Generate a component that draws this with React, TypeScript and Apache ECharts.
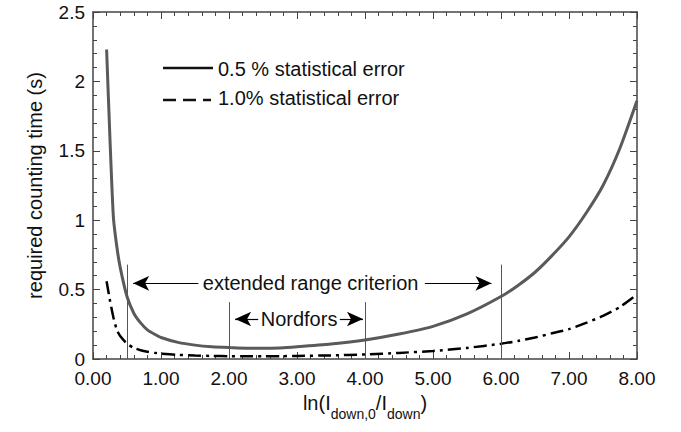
import React, { useEffect, useRef } from 'react';
import * as echarts from 'echarts';

// ---- data ----
const xValues = [0.2, 0.25, 0.3, 0.35, 0.4, 0.5, 0.6, 0.7, 0.8, 0.9, 1.0, 1.25, 1.5, 1.75, 2.0, 2.25, 2.5, 2.75, 3.0, 3.5, 4.0, 4.5, 5.0, 5.5, 6.0, 6.25, 6.5, 6.75, 7.0, 7.25, 7.5, 7.75, 8.0];
const solidValues = [2.23, 1.58, 1.02, 0.81, 0.66, 0.45, 0.33, 0.26, 0.21, 0.18, 0.155, 0.12, 0.1, 0.088, 0.082, 0.078, 0.077, 0.08, 0.088, 0.108, 0.137, 0.18, 0.235, 0.325, 0.45, 0.53, 0.625, 0.745, 0.88, 1.05, 1.25, 1.52, 1.86];
const dashedValues = [0.56, 0.42, 0.3, 0.21, 0.165, 0.11, 0.08, 0.063, 0.052, 0.045, 0.039, 0.03, 0.025, 0.022, 0.02, 0.019, 0.019, 0.02, 0.022, 0.026, 0.033, 0.044, 0.058, 0.08, 0.11, 0.13, 0.155, 0.185, 0.215, 0.26, 0.31, 0.375, 0.465];
const xTickLabels = ['0.00', '1.00', '2.00', '3.00', '4.00', '5.00', '6.00', '7.00', '8.00'];
const yTickLabels = ['0', '0.5', '1', '1.5', '2', '2.5'];
const seriesNames = ['0.5 % statistical error', '1.0% statistical error'];
const markerX = [0.5, 2.0, 4.0, 6.0];
const markerTop = [0.68, 0.41, 0.41, 0.68];
const annotationNames = ['extended range criterion', 'Nordfors'];
const annotationX = [3.2, 3.03];
const annotationY = [0.545, 0.288];
// arrows: from x -> to x at y
const arrowFrom = [1.55, 4.88, 2.43, 3.63];
const arrowTo = [0.59, 5.86, 2.09, 3.97];
const arrowY = [0.545, 0.545, 0.288, 0.288];

const FONT = '"Liberation Sans", Arial, Helvetica, sans-serif';
const AXIS_COLOR = '#444';

function makeAxisBase(isX: boolean, showLabels: boolean, position: string) {
  return {
    type: 'value',
    gridIndex: 0,
    position,
    min: 0,
    max: isX ? 8 : 2.5,
    interval: isX ? 1 : 0.5,
    axisLine: { show: true, onZero: false, lineStyle: { color: AXIS_COLOR, width: 1.5 } },
    axisTick: { show: true, inside: true, length: 7, lineStyle: { color: AXIS_COLOR, width: 1 } },
    minorTick: { show: true, splitNumber: 5, length: 4, lineStyle: { color: AXIS_COLOR, width: 1 } },
    splitLine: { show: false },
    minorSplitLine: { show: false },
    axisLabel: showLabels
      ? {
          show: true,
          fontSize: 19,
          fontFamily: FONT,
          color: '#111',
          margin: isX ? 10 : 8,
          formatter: (v: number) =>
            isX ? xTickLabels[Math.round(v)] ?? '' : yTickLabels[Math.round(v / 0.5)] ?? '',
        }
      : { show: false },
  };
}

export default function App() {
  const ref = useRef<HTMLDivElement>(null);
  useEffect(() => {
    document.body.style.margin = '0';
    const chart = echarts.init(ref.current!, null, { renderer: 'svg' });
    const arrowStyle = { color: '#000', width: 1.2, type: 'solid' };
    const markerStyle = { color: '#555', width: 1, type: 'solid' };
    const arrowLines = arrowFrom.map((fx, i) => [
      { coord: [fx, arrowY[i]], symbol: 'none', lineStyle: arrowStyle },
      { coord: [arrowTo[i], arrowY[i]], symbol: 'arrow', symbolSize: [11, 16], lineStyle: arrowStyle },
    ]);
    const markerLines = markerX.map((x, i) => [
      { coord: [x, 0], symbol: 'none', lineStyle: markerStyle },
      { coord: [x, markerTop[i]], symbol: 'none', lineStyle: markerStyle },
    ]);
    const option: any = {
      animation: false,
      backgroundColor: '#fff',
      grid: { left: 93, right: 44, top: 12, bottom: 73, containLabel: false },
      xAxis: [
        {
          ...makeAxisBase(true, true, 'bottom'),
          name: '{m|ln(I}{sub|down,0}{m|/I}{sub|down}{m|)}',
          nameLocation: 'middle',
          nameGap: 26,
          nameTextStyle: {
            fontSize: 20,
            fontFamily: FONT,
            color: '#111',
            verticalAlign: 'top',
            rich: {
              m: { fontSize: 20, fontFamily: FONT, color: '#111', verticalAlign: 'top', lineHeight: 23 },
              sub: { fontSize: 14, fontFamily: FONT, color: '#111', verticalAlign: 'bottom', lineHeight: 28 },
            },
          },
        },
        makeAxisBase(true, false, 'top'),
      ],
      yAxis: [
        {
          ...makeAxisBase(false, true, 'left'),
          name: 'required counting time (s)',
          nameLocation: 'middle',
          nameGap: 48,
          nameTextStyle: { fontSize: 20, fontFamily: FONT, color: '#111' },
        },
        makeAxisBase(false, false, 'right'),
      ],
      graphic: [
        { type: 'line', shape: { x1: 163, y1: 68, x2: 213, y2: 68 }, style: { stroke: '#111', lineWidth: 2.5 } },
        { type: 'text', x: 218, y: 69, style: { text: seriesNames[0], fontSize: 20, fontFamily: FONT, fill: '#111', verticalAlign: 'middle', align: 'left' } },
        { type: 'line', shape: { x1: 163, y1: 100, x2: 211, y2: 100 }, style: { stroke: '#111', lineWidth: 2.5, lineDash: [13, 7] } },
        { type: 'text', x: 218, y: 98, style: { text: seriesNames[1], fontSize: 20, fontFamily: FONT, fill: '#111', verticalAlign: 'middle', align: 'left' } },
      ],
      series: [
        {
          name: seriesNames[0],
          type: 'line',
          xAxisIndex: 0,
          yAxisIndex: 0,
          showSymbol: false,
          symbol: 'none',
          smooth: 0.2,
          data: xValues.map((x, i) => [x, solidValues[i]]),
          lineStyle: { color: '#5a5a5a', width: 3 },
          z: 2,
        },
        {
          name: seriesNames[1],
          type: 'line',
          xAxisIndex: 0,
          yAxisIndex: 0,
          showSymbol: false,
          symbol: 'none',
          smooth: 0.2,
          data: xValues.map((x, i) => [x, dashedValues[i]]),
          lineStyle: { color: '#000', width: 2.5, type: [13, 5, 3, 5] },
          z: 3,
        },
        {
          name: 'annotations',
          type: 'line',
          xAxisIndex: 0,
          yAxisIndex: 0,
          data: [],
          z: 4,
          markLine: {
            silent: true,
            animation: false,
            symbol: ['none', 'none'],
            label: { show: false },
            lineStyle: { type: 'solid' },
            emphasis: { disabled: true },
            data: [...markerLines, ...arrowLines],
          },
          markPoint: {
            silent: true,
            animation: false,
            symbol: 'circle',
            symbolSize: 1,
            itemStyle: { color: 'rgba(0,0,0,0)' },
            label: { show: true, position: 'inside', color: '#111', fontSize: 20, fontFamily: FONT, formatter: '{b}' },
            data: annotationNames.map((n, i) => ({ name: n, coord: [annotationX[i], annotationY[i]] })),
          },
        },
      ],
    };
    chart.setOption(option);
    return () => chart.dispose();
  }, []);
  return <div ref={ref} style={{ position: 'absolute', left: 0, top: 0, width: 681, height: 432 }} />;
}
